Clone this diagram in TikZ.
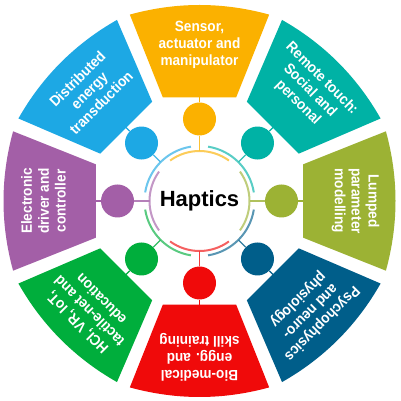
\documentclass[tikz,border=0pt]{standalone}
\usepackage{fontspec}
\setmainfont{Liberation Sans}
\newfontfamily\segfont{Liberation Sans}[FakeStretch=0.92]
\definecolor{cOr}{HTML}{FBB100}
\definecolor{cBl}{HTML}{1DA8E4}
\definecolor{cTe}{HTML}{00B2A5}
\definecolor{cLi}{HTML}{9CB234}
\definecolor{cDb}{HTML}{005E8A}
\definecolor{cRe}{HTML}{F00A0A}
\definecolor{cGr}{HTML}{00AE3C}
\definecolor{cPu}{HTML}{A35FA7}
\tikzset{
  segtext/.style={text=white, font=\segfont\bfseries\fontsize{14.8}{16.8}\selectfont, align=center, inner sep=0pt, transform shape},
  dotc/.style={circle, minimum size=33pt, inner sep=0pt},
  stem/.style={line width=1.3pt},
  ringarc/.style={line width=2pt},
}
\begin{document}
\begin{tikzpicture}[x=1pt,y=1pt]
\useasboundingbox (0,0) rectangle (400,401);
\fill[white] (0,0) rectangle (400,401);
\coordinate (O) at (199.5,200);
\foreach \i/\ang/\col/\la/\lb/\lc/\ar in {
  1/90/cOr/{Sensor,}/{actuator and}/{manipulator}/50,
  2/45/cTe/{Remote touch:}/{Social and}/{personal}/55,
  3/0/cLi/{Lumped}/{parameter}/{modelling}/50,
  4/-45/cDb/{Psychophysics}/{and neuro-}/{physiology}/55,
  5/-90/cRe/{Bio-medical}/{engg. and}/{skill training}/50,
  6/-135/cGr/{HCI, VR, IoT,}/{tactile-net and}/{education}/55,
  7/180/cPu/{Electronic}/{driver and}/{controller}/50,
  8/135/cBl/{Distributed}/{energy}/{transduction}/55}
{
  \begin{scope}[shift={(O)}, rotate=\ang-90]
    \fill[\col] (109.5:110) -- (110.5:199) .. controls (-23.2,199.2) and (23.2,199.2) .. (69.5:199) -- (70.5:110) -- cycle;
    \draw[ringarc, \col!65!white] (54:\ar) arc[start angle=54, end angle=126, radius=\ar];
    \coordinate (a\i) at (0,\ar);
    \coordinate (s\i) at (0,105);
    \node[dotc, fill=\col] (c\i) at (0,82) {};
    \draw[stem, \col] (c\i) -- (s\i);
    \draw[stem, \col!80!white] (c\i) -- (a\i);
    \node[segtext] (t\i) at (0,156) {\la\\\lb\\\lc};
  \end{scope}
}
\node[font=\bfseries\fontsize{22}{22}\selectfont, text=black] (hap) at (O) {Haptics};
\end{tikzpicture}
\end{document}
